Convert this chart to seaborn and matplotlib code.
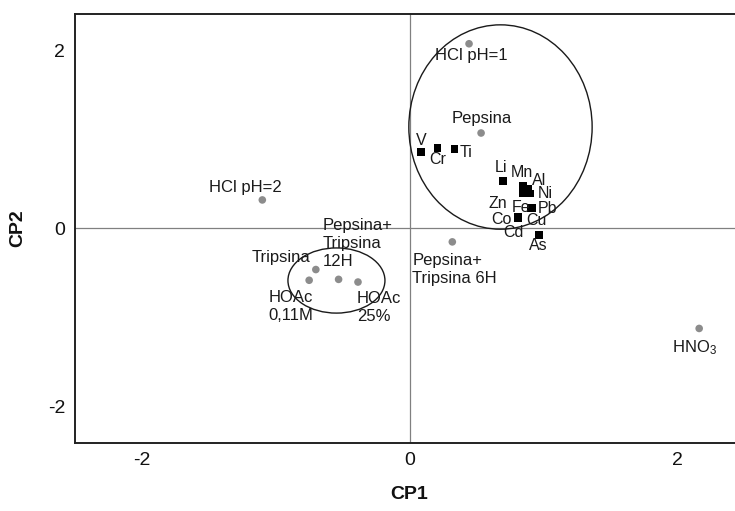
import matplotlib
matplotlib.use("Agg")
import matplotlib.pyplot as plt
from matplotlib.patches import Ellipse
import seaborn as sns
import pandas as pd

# PCA scores of the extraction media (grey circles)
sample_names = ["HCl pH=1", "Pepsina", "HCl pH=2", "Pepsina+\nTripsina\n12H",
                "Tripsina", "HOAc\n0,11M", "HOAc\n25%",
                "Pepsina+\nTripsina 6H", "HNO$_3$"]
sample_cp1 = [0.445, 0.535, -1.10, -0.53, -0.70, -0.75, -0.385, 0.32, 2.165]
sample_cp2 = [2.07, 1.07, 0.32, -0.57, -0.46, -0.58, -0.60, -0.15, -1.12]

# PCA loadings of the elements (black squares)
element_names = ["V", "Cr", "Ti", "Li", "Mn", "Al", "Ni", "Zn", "Fe",
                 "Cu", "Pb", "Co", "Cd", "As"]
element_cp1 = [0.085, 0.21, 0.335, 0.70, 0.85, 0.89, 0.90, 0.85, 0.87,
               0.91, 0.92, 0.81, 0.81, 0.97]
element_cp2 = [0.86, 0.90, 0.89, 0.53, 0.48, 0.44, 0.39, 0.40, 0.42,
               0.23, 0.23, 0.13, 0.12, -0.07]

# grouping ellipses: (centre cp1, centre cp2, width, height)
groups = [(0.68, 1.137, 1.37, 2.29), (-0.546, -0.583, 0.725, 0.73)]

# label placement: offset in pixels from the marker, horizontal alignment
sample_label_style = {
    "HCl pH=1": ((2, -12), "center"),
    "Pepsina": ((1, 15), "center"),
    "HCl pH=2": ((-17, 12), "center"),
    "Pepsina+\nTripsina\n12H": ((-16, 35.5), "left"),
    "Tripsina": ((-35, 12), "center"),
    "HOAc\n0,11M": ((-41, -26), "left"),
    "HOAc\n25%": ((-1, -25.5), "left"),
    "Pepsina+\nTripsina 6H": ((-40, -28), "left"),
    "HNO$_3$": ((-27, -19), "left"),
}
element_label_style = {
    "V": ((0, 11), "center"), "Cr": ((0, -11), "center"),
    "Ti": ((5, -3), "left"), "Li": ((-2, 14), "center"),
    "Mn": ((-1, 13), "center"), "Al": ((10.5, 8.5), "center"),
    "Ni": ((15, 0), "center"), "Zn": ((-25, -11), "center"),
    "Fe": ((-5, -16), "center"), "Cu": ((5, -13), "center"),
    "Pb": ((14.5, -1), "center"), "Co": ((-16, -2.5), "center"),
    "Cd": ((-4, -14.5), "center"), "As": ((-1, -11), "center"),
}

sns.set_style("white")
plt.rcParams["font.family"] = ["Liberation Sans", "DejaVu Sans"]
plt.rcParams["mathtext.fontset"] = "custom"
plt.rcParams["mathtext.rm"] = "Liberation Sans"
plt.rcParams["mathtext.it"] = "Liberation Sans:italic"
plt.rcParams["axes.unicode_minus"] = False

df = pd.concat([
    pd.DataFrame({"CP1": sample_cp1, "CP2": sample_cp2, "kind": "sample"}),
    pd.DataFrame({"CP1": element_cp1, "CP2": element_cp2, "kind": "element"}),
], ignore_index=True)

fig = plt.figure(figsize=(7.35, 5.11), dpi=100)
ax = fig.add_axes([75 / 735, 0.1337, 669 / 735, 0.8383])

ax.axhline(0, color="#808080", lw=0.9, zorder=1)
ax.axvline(0, color="#808080", lw=0.9, zorder=1)

for cx, cy, w, h in groups:
    ax.add_patch(Ellipse((cx, cy), w, h, fill=False, edgecolor="#1a1a1a",
                         lw=1.0, zorder=2))

sns.scatterplot(data=df, x="CP1", y="CP2", hue="kind", style="kind",
                palette={"sample": "#8c8c8c", "element": "black"},
                markers={"sample": "o", "element": "s"},
                s=30, linewidth=0, legend=False, ax=ax, zorder=3)

text_kw = dict(textcoords="offset pixels", va="center", fontsize=12,
               color="#1a1a1a", linespacing=1.25, zorder=4)
for name, x, y in zip(sample_names, sample_cp1, sample_cp2):
    off, ha = sample_label_style[name]
    ax.annotate(name, (x, y), xytext=off, ha=ha, **text_kw)
for name, x, y in zip(element_names, element_cp1, element_cp2):
    off, ha = element_label_style[name]
    ax.annotate(name, (x, y), xytext=off, ha=ha,
                **{**text_kw, "fontsize": 11.5})

ax.set_xlim(-2.5, 2.5)
ax.set_ylim(-2.4, 2.4)
ax.set_xticks([-2, 0, 2])
ax.set_yticks([-2, 0, 2])
ax.set_xticks([-1, 1], minor=True)
ax.set_yticks([-1, 1], minor=True)
ax.tick_params(which="both", direction="in", top=False, right=False,
               width=1.2, color="#222222", labelsize=14, labelcolor="#111111")
ax.tick_params(which="major", length=6, pad=7)
ax.tick_params(which="minor", length=3.5)

for side in ["left", "bottom", "top"]:
    ax.spines[side].set_linewidth(1.4)
    ax.spines[side].set_color("#222222")
ax.spines["right"].set_visible(False)

ax.set_xlabel("CP1", fontsize=14, fontweight="bold", color="#111111")
ax.set_ylabel("CP2", fontsize=14, fontweight="bold", color="#111111")
ax.xaxis.label.set_va("center")
ax.yaxis.label.set_va("center")
ax.xaxis.set_label_coords(0.5, -0.122)
ax.yaxis.set_label_coords(-0.085, 0.5)

fig.savefig("out.png", dpi=100, facecolor="white")
